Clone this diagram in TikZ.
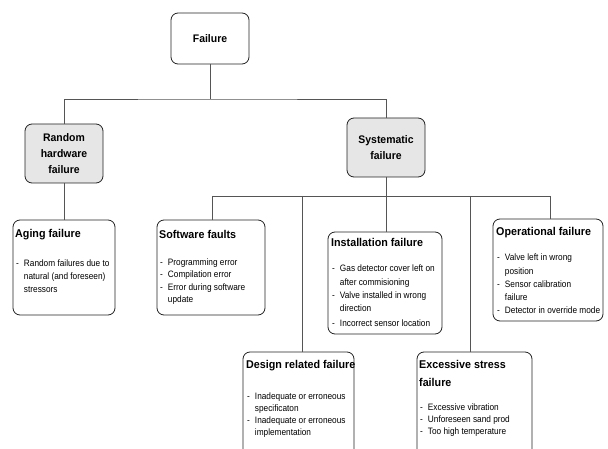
\documentclass[tikz,border=0pt]{standalone}
\usepackage{fontspec}
\setmainfont{Liberation Sans}[FakeStretch=0.89]
\newfontfamily\ttlfont{Liberation Sans}[FakeStretch=0.95]
\definecolor{boxgray}{HTML}{E6E6E6}
\definecolor{linegray}{HTML}{555555}
\definecolor{boxline}{HTML}{222222}
\newcommand{\blist}[1]{\begin{tabular}{@{}l@{\hspace{5pt}}l@{}}#1\end{tabular}}
\begin{document}
\begin{tikzpicture}[x=1pt,y=-1pt,
  box/.style={draw=boxline, line width=0.8pt, rounded corners=7pt, inner sep=0pt, fill=white},
  hbox/.style={box, fill=boxgray},
  conn/.style={draw=linegray, line width=0.9pt},
  ttl/.style={anchor=base west, inner sep=0pt, font=\ttlfont\fontsize{11.3}{13}\selectfont\bfseries},
  ttltwo/.style={anchor=north west, inner sep=0pt, align=left, font=\ttlfont\fontsize{11.3}{18}\selectfont\bfseries},
  bdy/.style={anchor=north west, inner sep=0pt, font=\fontsize{9.3}{#1}\selectfont},
  bdy/.default=12.5,
  ctr/.style={align=center, inner sep=0pt, font=\ttlfont\fontsize{11}{16}\selectfont\bfseries}]
\useasboundingbox (0,0) rectangle (608,449);
\clip (0,0) rectangle (608,449);
\fill[white] (0,0) rectangle (608,449);

% top level boxes
\node[box, minimum width=78pt, minimum height=51pt] (fail) at (210,38.5) {};
\node[ctr] (failT) at (fail) {Failure};
\node[hbox, minimum width=78pt, minimum height=59pt] (rand) at (64,153.5) {};
\node[ctr] (randT) at (rand) {Random\\hardware\\failure};
\node[hbox, minimum width=78pt, minimum height=59pt] (sys) at (386,147.5) {};
\node[ctr] (sysT) at (sys) {Systematic\\failure};

% leaf boxes
\node[box, minimum width=102pt, minimum height=95pt] (aging) at (64,267.5) {};
\node[box, minimum width=108pt, minimum height=95pt] (soft) at (211,267.5) {};
\node[box, minimum width=114pt, minimum height=102pt] (inst) at (385,283) {};
\node[box, minimum width=110pt, minimum height=102pt] (oper) at (548,270) {};
\node[box, minimum width=111pt, minimum height=106pt] (design) at (298.5,405) {};
\node[box, minimum width=115pt, minimum height=106pt] (excess) at (474.5,405) {};

% connectors
\coordinate (j1) at (210,99);
\draw[conn] (fail.south) -- (j1);
\draw[conn] (rand.north) |- (j1) -| (sys.north);
\draw[conn] (rand.south) -- (aging.north);
\coordinate (j2) at (386,196);
\coordinate (dS) at (212,196);
\coordinate (dD) at (302,196);
\coordinate (dE) at (470,196);
\coordinate (dO) at (550,196);
\draw[conn] (sys.south) -- (j2);
\draw[conn] (dS) -- (dO);
\draw[conn] (dS) -- (dS |- soft.north);
\draw[conn] (dD) -- (dD |- design.north);
\draw[conn] (j2) -- (j2 |- inst.north);
\draw[conn] (dE) -- (dE |- excess.north);
\draw[conn] (dO) -- (dO |- oper.north);

% texts
\node[ttl] (agingT) at (15,238) {Aging failure};
\node[bdy=13] (agingB) at (16,257.5) {\blist{-&Random failures due to\\&natural (and foreseen)\\&stressors}};

\node[ttl] (softT) at (159,239) {Software faults};
\node[bdy] (softB) at (160,256.5) {\blist{-&Programming error\\-&Compilation error\\-&Error during software\\&update}};

\node[ttl] (instT) at (331,247) {Installation failure};
\node[bdy=13.2] (instB) at (332,262.5) {\blist{-&Gas detector cover left on\\&after commisioning\\-&Valve installed in wrong\\&direction\\[1.5pt]-&Incorrect sensor location}};

\node[ttl] (operT) at (496,236) {Operational failure};
\node[bdy=13.2] (operB) at (497,251.5) {\blist{-&Valve left in wrong\\&position\\-&Sensor calibration\\&failure\\-&Detector in override mode}};

\node[ttl] (designT) at (246,368) {Design related failure};
\node[bdy=12] (designB) at (247,390.5) {\blist{-&Inadequate or erroneous\\&specificaton\\-&Inadequate or erroneous\\&implementation}};

\node[ttltwo] (excessT) at (419,360) {Excessive stress\\failure};
\node[bdy=12] (excessB) at (420,401.5) {\blist{-&Excessive vibration\\-&Unforeseen sand prod\\-&Too high temperature}};
\end{tikzpicture}
\end{document}
